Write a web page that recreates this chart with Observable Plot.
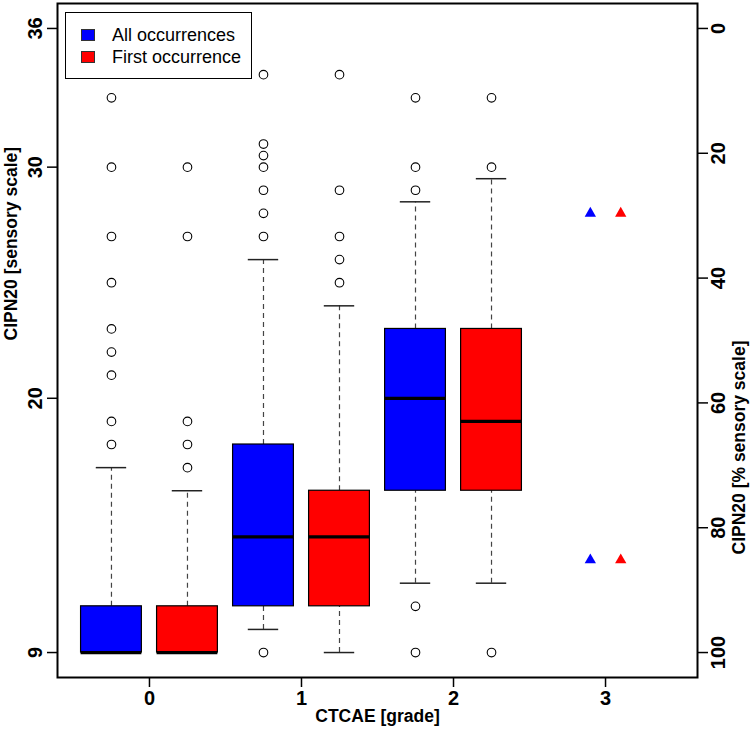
<!DOCTYPE html>
<html>
<head>
<meta charset="utf-8">
<script src="https://cdn.jsdelivr.net/npm/d3@7"></script>
<script src="https://cdn.jsdelivr.net/npm/@observablehq/plot@0.6"></script>
<style>
  html, body { margin: 0; padding: 0; background: #fff; }
  #wrap { position: relative; width: 750px; height: 730px; font-family: "Liberation Sans", Arial, Helvetica, sans-serif; }
  #legend { position: absolute; left: 65px; top: 12px; width: 187px; height: 67px; box-sizing: border-box; border: 1.5px solid #000; background: #fff; }
  .sw { position: absolute; left: 15px; width: 14px; height: 12px; box-sizing: border-box; border: 1px solid #333; }
  .lt { position: absolute; left: 46px; font-size: 18px; line-height: 18px; white-space: nowrap; color: #000; }
</style>
</head>
<body>
<div id="wrap"><div id="legend"></div></div>
<script>
// ---- data ----
const gradeLabels = ["0", "1", "2", "3"];
const gradeTickPos = [1.5, 3.5, 5.5, 7.5];
const seriesNames = ["All occurrences", "First occurrence"];
const seriesColors = ["#0000ff", "#ff0000"];

const boxPos    = [1, 2, 3, 4, 5, 6];
const boxSeries = [0, 1, 0, 1, 0, 1];
const whiskLo   = [9, 9, 10, 9, 12, 12];
const q1        = [9, 9, 11, 11, 16, 16];
const medians   = [9, 9, 14, 14, 20, 19];
const q3        = [11, 11, 18, 16, 23, 23];
const whiskHi   = [17, 16, 26, 24, 28.5, 29.5];
const outliers  = [
  [33, 30, 27, 25, 23, 22, 21, 19, 18],
  [30, 27, 19, 18, 17],
  [34, 31, 30.5, 30, 29, 28, 27, 9],
  [34, 29, 27, 26, 25],
  [33, 30, 29, 11, 9],
  [33, 30, 9]
];

const triPos    = [7.3, 7.7, 7.3, 7.7];
const triSeries = [0, 1, 0, 1];
const triValues = [28, 28, 13, 13];

const leftTicks  = [9, 20, 30, 36];
const rightTicks = [0, 20, 40, 60, 80, 100];
const scaleMin = 9, scaleMax = 36;

// ---- derived tables ----
const boxes = boxPos.map((p, i) => ({
  pos: p, s: boxSeries[i], lo: whiskLo[i], q1: q1[i], med: medians[i], q3: q3[i], hi: whiskHi[i]
}));
const outPts = outliers.flatMap((arr, i) => arr.map(v => ({pos: boxPos[i], v})));
const tris = triPos.map((p, i) => ({pos: p, s: triSeries[i], v: triValues[i]}));
const pctToY = p => scaleMax - p * (scaleMax - scaleMin) / 100;
const halfBox = 0.4, halfCap = 0.2;
const font = "Liberation Sans, Arial, Helvetica, sans-serif";

const chart = Plot.plot({
  width: 750,
  height: 730,
  marginLeft: 57,
  marginRight: 53,
  marginTop: 3,
  marginBottom: 53,
  style: {background: "#fff", fontFamily: font, color: "#000"},
  x: {type: "linear", domain: [0.29, 8.71]},
  y: {type: "linear", domain: [7.92, 37.08]},
  marks: [
    // whiskers
    Plot.ruleX(boxes.filter(d => d.hi > d.q3), {x: "pos", y1: "q3", y2: "hi", stroke: "#444", strokeWidth: 1.2, strokeDasharray: "5,4"}),
    Plot.ruleX(boxes.filter(d => d.lo < d.q1), {x: "pos", y1: "lo", y2: "q1", stroke: "#444", strokeWidth: 1.2, strokeDasharray: "5,4"}),
    // staples
    Plot.ruleY(boxes, {y: "hi", x1: d => d.pos - halfCap, x2: d => d.pos + halfCap, stroke: "#222", strokeWidth: 1.5}),
    Plot.ruleY(boxes, {y: "lo", x1: d => d.pos - halfCap, x2: d => d.pos + halfCap, stroke: "#222", strokeWidth: 1.5}),
    // boxes
    Plot.rect(boxes, {x1: d => d.pos - halfBox, x2: d => d.pos + halfBox, y1: "q1", y2: "q3",
      fill: d => seriesColors[d.s], stroke: "#000", strokeWidth: 1.2}),
    // medians
    Plot.ruleY(boxes, {y: "med", x1: d => d.pos - halfBox, x2: d => d.pos + halfBox, stroke: "#000", strokeWidth: 3.2}),
    // outliers
    Plot.dot(outPts, {x: "pos", y: "v", r: 4.3, stroke: "#000", strokeWidth: 1.1, fill: "#fff"}),
    // reference triangles
    Plot.dot(tris, {x: "pos", y: "v", symbol: "triangle", r: 4.2, fill: d => seriesColors[d.s], stroke: "none"}),
    // frame
    Plot.frame({stroke: "#000", strokeWidth: 2}),
    // axes (tick marks)
    Plot.axisY(leftTicks, {anchor: "left", tickSize: 10, strokeWidth: 1.5, tickFormat: () => "", label: null}),
    Plot.axisY(rightTicks.map(pctToY), {anchor: "right", tickSize: 10, strokeWidth: 1.5, tickFormat: () => "", label: null}),
    Plot.axisX(gradeTickPos, {anchor: "bottom", tickSize: 10, strokeWidth: 1.5, tickFormat: () => "", label: null}),
    // tick labels
    Plot.text(leftTicks, {y: d => d, text: d => String(d), frameAnchor: "left", dx: -22, rotate: -90,
      textAnchor: "middle", lineAnchor: "middle", fontSize: 20, fontWeight: "bold", fill: "#000"}),
    Plot.text(rightTicks, {y: d => pctToY(d), text: d => String(d), frameAnchor: "right", dx: 21, rotate: -90,
      textAnchor: "middle", lineAnchor: "middle", fontSize: 20, fontWeight: "bold", fill: "#000"}),
    Plot.text(gradeTickPos, {x: d => d, text: (d, i) => gradeLabels[i], frameAnchor: "bottom", dy: 21,
      textAnchor: "middle", lineAnchor: "middle", fontSize: 20, fontWeight: "bold", fill: "#000"}),
    // axis titles
    Plot.text(["CTCAE [grade]"], {text: d => d, frameAnchor: "bottom", dy: 39, lineAnchor: "middle",
      fontSize: 17.5, fontWeight: "bold", fill: "#000"}),
    Plot.text(["CIPN20 [sensory scale]"], {text: d => d, frameAnchor: "left", dx: -46, rotate: -90, lineAnchor: "middle",
      fontSize: 17.5, fontWeight: "bold", fill: "#000"}),
    Plot.text(["CIPN20 [% sensory scale]"], {text: d => d, frameAnchor: "right", dx: 42, rotate: -90, lineAnchor: "middle",
      fontSize: 17.5, fontWeight: "bold", fill: "#000"})
  ]
});
document.getElementById("wrap").prepend(chart);

// legend
const legend = document.getElementById("legend");
seriesNames.forEach((name, i) => {
  const sw = document.createElement("div");
  sw.className = "sw";
  sw.style.top = (16 + i * 22) + "px";
  sw.style.background = seriesColors[i];
  legend.appendChild(sw);
  const t = document.createElement("div");
  t.className = "lt";
  t.style.top = (13 + i * 22) + "px";
  t.textContent = name;
  legend.appendChild(t);
});
</script>
</body>
</html>
